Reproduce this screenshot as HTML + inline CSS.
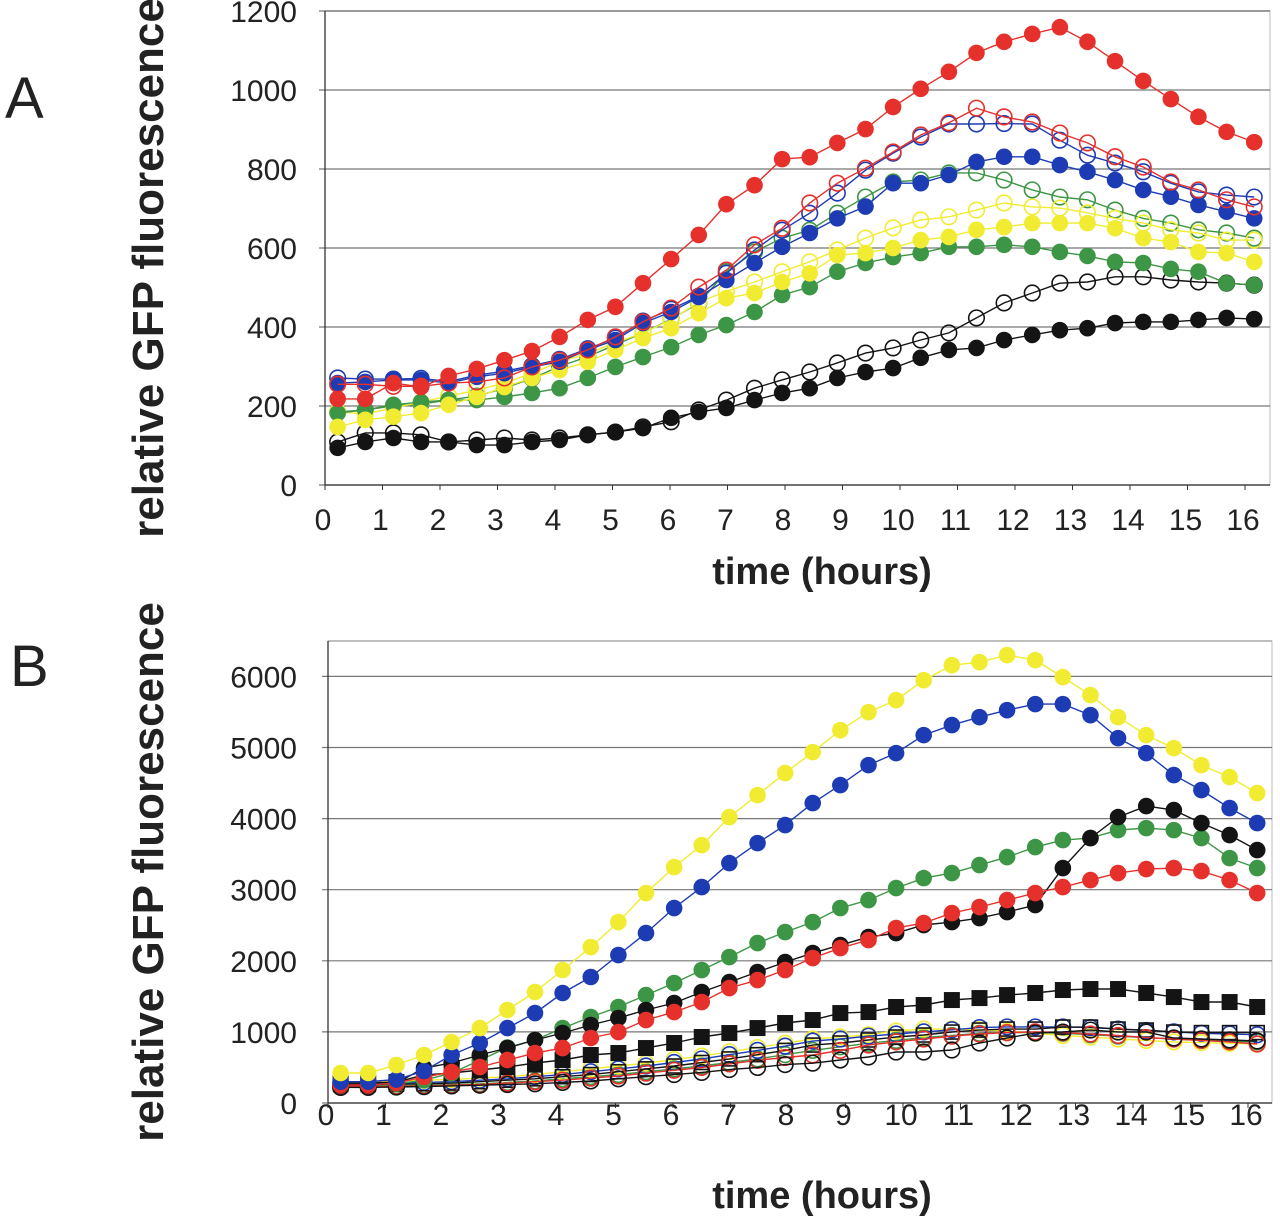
<!DOCTYPE html>
<html><head><meta charset="utf-8"><style>
html,body{margin:0;padding:0;background:#fff;}
svg{display:block;font-family:"Liberation Sans",Arial,sans-serif;}
</style></head><body>
<svg id="fig" width="1280" height="1221" viewBox="0 0 1280 1221" xmlns="http://www.w3.org/2000/svg">
<text x="5" y="118" font-size="58" fill="#222">A</text>
<text x="10" y="686" font-size="58" fill="#222">B</text>
<text transform="translate(163,268) rotate(-90)" text-anchor="middle" font-size="44" font-weight="bold" fill="#222">relative GFP fluorescence</text>
<text transform="translate(163,872) rotate(-90)" text-anchor="middle" font-size="44" font-weight="bold" fill="#222">relative GFP fluorescence</text>
<text x="822" y="584" text-anchor="middle" font-size="38" font-weight="bold" fill="#222">time (hours)</text>
<text x="822" y="1208" text-anchor="middle" font-size="38" font-weight="bold" fill="#222">time (hours)</text>
<g id="pa"></g>
<g id="pb"></g>
</svg>
<script>
const times = [0.22,0.70,1.19,1.67,2.15,2.64,3.12,3.60,4.08,4.57,5.05,5.53,6.02,6.50,6.98,7.47,7.95,8.43,8.91,9.40,9.88,10.36,10.85,11.33,11.81,12.30,12.78,13.26,13.74,14.23,14.71,15.19,15.68,16.16];
const xTicks = [0,1,2,3,4,5,6,7,8,9,10,11,12,13,14,15,16];
const yTicksA = [0,200,400,600,800,1000,1200];
const yTicksB = [0,1000,2000,3000,4000,5000,6000];

// Panel A series
const aBlackFilled = [94,109,119,109,109,101,101,109,114,127,134,144,170,185,195,215,233,245,271,286,296,322,342,347,367,380,392,397,410,413,413,418,423,420];
const aBlackOpen = [109,132,132,127,109,114,119,114,119,127,134,147,160,190,215,245,266,286,309,334,347,367,385,423,461,486,511,514,527,527,519,514,511,506];
const aGreenFilled = [182,190,203,210,215,215,223,233,245,271,299,324,349,380,405,438,481,501,540,562,577,587,603,603,608,603,590,580,565,562,547,540,511,506];
const aGreenOpen = [185,190,200,205,215,225,245,270,300,325,355,385,420,460,540,590,625,645,688,729,767,772,790,790,772,747,729,722,696,675,663,646,638,625];
const aYellowFilled = [147,165,173,182,203,223,248,271,291,312,342,372,397,435,473,486,514,536,582,587,600,620,628,646,653,663,663,663,650,625,615,590,587,565];
const aYellowOpen = [185,180,195,210,225,240,258,283,312,333,360,385,418,463,490,514,540,565,595,625,651,671,679,696,714,704,701,689,675,663,646,638,620,620];
const aBlueFilled = [258,261,266,266,258,274,283,299,312,342,367,410,438,476,519,562,603,638,675,705,764,764,785,818,831,831,810,793,772,747,730,709,692,675];
const aBlueOpen = [271,268,268,270,262,278,288,302,318,345,372,415,445,478,536,595,645,688,739,797,840,881,914,914,915,914,873,835,815,793,764,742,734,729];
const aRedOpen = [255,255,250,250,258,261,271,299,316,342,375,413,448,501,544,608,650,714,764,802,843,886,917,954,932,919,891,866,831,805,767,747,722,704];
const aRedFilled = [218,218,258,248,276,294,316,339,375,418,451,511,572,633,711,759,825,830,866,901,957,1003,1046,1094,1122,1142,1159,1122,1073,1023,977,932,894,868];

// Panel B series
const bBlackOpen = [220,220,225,230,240,250,260,270,290,310,340,370,400,430,470,500,540,560,605,647,717,717,745,844,914,984,998,1026,998,998,914,900,886,872];
const bSquareOpen = [260,260,265,270,280,300,320,340,370,400,440,480,520,570,620,680,740,815,844,886,928,956,998,1026,1040,1040,1068,1068,1040,1026,998,990,990,990];
const bGreenOpen = [240,240,245,250,260,270,290,310,340,370,400,440,480,520,570,620,680,740,790,840,880,920,950,980,990,990,980,960,940,920,900,880,870,860];
const bYellowOpen = [300,300,310,320,330,350,370,400,440,480,520,560,610,660,720,780,840,900,930,960,1012,1040,1040,1030,1010,980,950,930,900,880,860,850,840,830];
const bBlueOpen = [270,270,280,290,300,320,340,370,400,440,480,520,570,620,680,740,800,870,900,940,970,1000,1030,1060,1070,1070,1070,1060,1040,1020,1000,980,970,960];
const bRedOpen = [230,230,235,240,250,260,280,300,320,350,380,420,460,500,550,600,640,675,740,815,860,900,940,970,990,1000,990,970,950,920,900,880,860,830];
const bSquareFilled = [281,281,295,394,422,464,506,562,605,675,703,773,844,928,984,1054,1125,1167,1265,1279,1350,1378,1448,1476,1518,1547,1589,1603,1603,1547,1490,1420,1420,1350];
const bRedFilled = [253,253,281,366,436,506,605,703,773,914,998,1167,1279,1420,1617,1729,1870,2039,2179,2292,2461,2531,2671,2756,2854,2953,3037,3135,3234,3290,3304,3262,3135,2953];
const bBlackFilled = [250,250,280,492,562,675,773,886,984,1097,1195,1308,1406,1561,1701,1842,1982,2109,2221,2334,2390,2503,2545,2601,2686,2784,3304,3726,4021,4176,4120,3937,3768,3557];
const bGreenFilled = [250,250,270,320,420,600,780,886,1054,1209,1350,1518,1687,1870,2053,2250,2404,2545,2742,2854,3023,3163,3234,3346,3459,3599,3698,3726,3838,3866,3838,3726,3444,3304];
const bBlueFilled = [300,300,330,450,675,844,1054,1265,1547,1772,2081,2390,2742,3037,3374,3655,3909,4218,4471,4752,4921,5174,5315,5427,5525,5610,5610,5455,5132,4921,4612,4401,4148,3937];
const bYellowFilled = [422,422,534,675,858,1054,1308,1561,1870,2193,2545,2953,3318,3627,4021,4330,4640,4935,5244,5497,5666,5947,6158,6200,6299,6229,5990,5737,5427,5174,4991,4752,4584,4359];

const NS = "http://www.w3.org/2000/svg";
const C = {red:"#e5302b",blue:"#1d3cb4",green:"#3d9645",yellow:"#f1ec32",black:"#141414"};
function mk(tag, attrs, parent){const e=document.createElementNS(NS,tag);for(const k in attrs)e.setAttribute(k,attrs[k]);parent.appendChild(e);return e;}

const PA = {x0:325, xs:57.5, y0:485, ys:0.395, top:11, right:1270, ticks:yTicksA, g:document.getElementById('pa'), lblY:530, topColor:'#555'};
const PB = {x0:328, xs:57.5, y0:1103, ys:0.0711, top:641, right:1272, ticks:yTicksB, g:document.getElementById('pb'), lblY:1125, topColor:'#999'};
function xS(P,t){return P.x0 + t*P.xs;}
function yS(P,v){return P.y0 - v*P.ys;}

function axes(P, id){
  const g=P.g;
  const frame=mk('rect',{x:P.x0,y:P.top,width:P.right-P.x0,height:P.y0-P.top,fill:'none',stroke:'#bbb','stroke-width':1},g);
  
  
  const tp=mk('line',{x1:P.x0,x2:P.right,y1:P.top,y2:P.top,stroke:P.topColor,'stroke-width':1.2},g);
  
  
  P.ticks.forEach(v=>{
    const y=yS(P,v);
    const gl=mk('line',{x1:P.x0-6,x2:P.right,y1:y,y2:y,stroke:'#777','stroke-width':1.2},g);
    
    
    const tl=mk('text',{x:297,y:y+11,'text-anchor':'end','font-size':30,fill:'#222'},g);
    tl.textContent=v;
    
    
  });
  const ax=mk('line',{x1:P.x0,x2:P.x0,y1:P.top,y2:P.y0,stroke:'#333','stroke-width':1.3},g);
  
  
  const bx=mk('line',{x1:P.x0,x2:P.right,y1:P.y0,y2:P.y0,stroke:'#333','stroke-width':1.3},g);
  
  
  xTicks.forEach(t=>{
    const x=xS(P,t);
    const tk=mk('line',{x1:x,x2:x,y1:P.y0,y2:P.y0+5,stroke:'#333','stroke-width':1},g);
    
    
    const tl=mk('text',{x:x-2,y:P.lblY,'text-anchor':'middle','font-size':30,fill:'#222'},g);
    tl.textContent=t;
    
    
  });
}

function series(P, vals, color, kind, name){
  const g=mk('g',{},P.g);
  
  
  const pts=vals.map((v,i)=>xS(P,times[i]).toFixed(1)+','+yS(P,v).toFixed(1)).join(' ');
  const ln=mk('polyline',{points:pts,fill:'none',stroke:C[color],'stroke-width':1.4},g);
  
  
  vals.forEach((v,i)=>{
    const x=xS(P,times[i]), y=yS(P,v);
    let m;
    if(kind==='filled') m=mk('circle',{cx:x,cy:y,r:8.3,fill:C[color]},g);
    else if(kind==='open') m=mk('circle',{cx:x,cy:y,r:7.8,fill:'none',stroke:C[color],'stroke-width':1.6},g);
    else if(kind==='square') m=mk('rect',{x:x-8,y:y-8,width:16,height:16,fill:C[color]},g);
    else m=mk('rect',{x:x-7,y:y-7,width:14,height:14,fill:'none',stroke:C[color],'stroke-width':1.6},g);
    
    
  });
}

axes(PA,'panel-a');
series(PA,aBlackOpen,'black','open','a-black-open-series');
series(PA,aBlackFilled,'black','filled','a-black-filled-series');
series(PA,aGreenOpen,'green','open','a-green-open-series');
series(PA,aYellowOpen,'yellow','open','a-yellow-open-series');
series(PA,aGreenFilled,'green','filled','a-green-filled-series');
series(PA,aYellowFilled,'yellow','filled','a-yellow-filled-series');
series(PA,aBlueFilled,'blue','filled','a-blue-filled-series');
series(PA,aBlueOpen,'blue','open','a-blue-open-series');
series(PA,aRedOpen,'red','open','a-red-open-series');
series(PA,aRedFilled,'red','filled','a-red-filled-series');

axes(PB,'panel-b');
series(PB,bGreenOpen,'green','open','b-green-open-series');
series(PB,bYellowOpen,'yellow','open','b-yellow-open-series');
series(PB,bBlueOpen,'blue','open','b-blue-open-series');
series(PB,bSquareOpen,'black','opensquare','b-black-open-square-series');
series(PB,bRedOpen,'red','open','b-red-open-series');
series(PB,bBlackOpen,'black','open','b-black-open-series');
series(PB,bSquareFilled,'black','square','b-black-square-series');
series(PB,bGreenFilled,'green','filled','b-green-filled-series');
series(PB,bBlackFilled,'black','filled','b-black-filled-series');
series(PB,bRedFilled,'red','filled','b-red-filled-series');
series(PB,bBlueFilled,'blue','filled','b-blue-filled-series');
series(PB,bYellowFilled,'yellow','filled','b-yellow-filled-series');
</script>
</body></html>
